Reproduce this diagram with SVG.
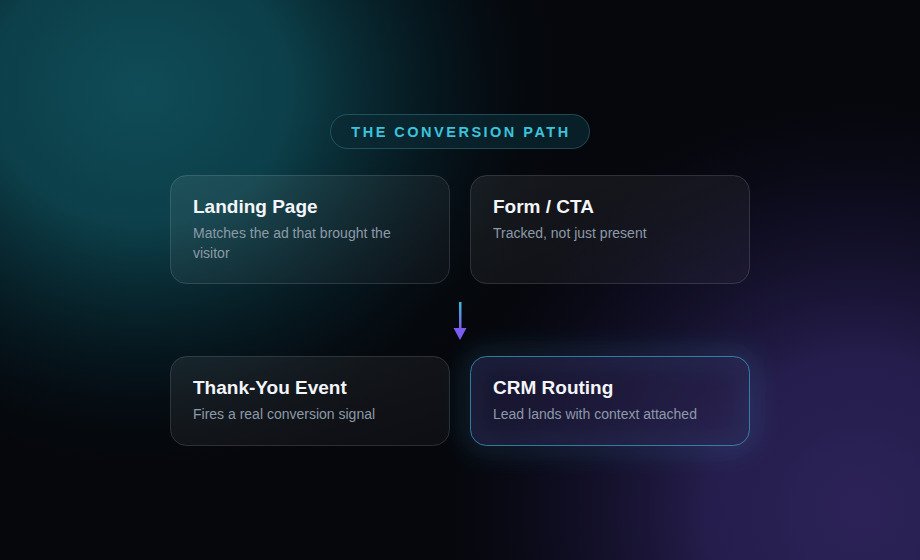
<svg xmlns="http://www.w3.org/2000/svg" width="920" height="560" viewBox="0 0 920 560">
<defs>
<radialGradient id="teal" cx="140" cy="90" r="460" gradientUnits="userSpaceOnUse" gradientTransform="translate(140 90) scale(0.95 0.85) translate(-140 -90)">
<stop offset="0" stop-color="#0f4c57"/>
<stop offset="0.35" stop-color="#0c3f49"/>
<stop offset="0.7" stop-color="#061a22" stop-opacity="0.7"/>
<stop offset="1" stop-color="#05070c" stop-opacity="0"/>
</radialGradient>
<radialGradient id="purple" cx="860" cy="510" r="440" gradientUnits="userSpaceOnUse">
<stop offset="0" stop-color="#2c2258"/>
<stop offset="0.35" stop-color="#251d4c"/>
<stop offset="0.72" stop-color="#120f28" stop-opacity="0.6"/>
<stop offset="1" stop-color="#05070c" stop-opacity="0"/>
</radialGradient>
<linearGradient id="cardFill" x1="0" y1="0" x2="1" y2="1">
<stop offset="0" stop-color="#ffffff" stop-opacity="0.07"/>
<stop offset="1" stop-color="#ffffff" stop-opacity="0.03"/>
</linearGradient>
<linearGradient id="arrowGrad" x1="0" y1="0" x2="0" y2="1">
<stop offset="0" stop-color="#38bdd8"/>
<stop offset="1" stop-color="#7c5cf0"/>
</linearGradient>
<filter id="glow" x="-30%" y="-50%" width="160%" height="200%">
<feGaussianBlur stdDeviation="12"/>
</filter>
<style>
.card{fill:url(#cardFill);stroke:#ffffff;stroke-opacity:0.14;stroke-width:1}
.title{font-family:"Liberation Sans",Arial,sans-serif;font-size:19px;font-weight:bold;fill:#f3f5f8}
.sub{font-family:"Liberation Sans",Arial,sans-serif;font-size:14px;fill:#8c9aa8}
.pillText{font-family:"Liberation Sans",Arial,sans-serif;font-size:14.5px;font-weight:bold;fill:#3cc3dc;letter-spacing:2.5px}
</style>
</defs>
<rect width="920" height="560" fill="#05070c"/>
<rect width="920" height="560" fill="url(#teal)"/>
<rect width="920" height="560" fill="url(#purple)"/>

<g id="header">
<rect x="330.5" y="114.5" width="259" height="34" rx="17" fill="#0c2a33" fill-opacity="0.7" stroke="#2f6f78" stroke-opacity="0.6"/>
<text class="pillText" x="461" y="136.5" text-anchor="middle">THE CONVERSION PATH</text>
</g>

<g id="node-landing">
<rect class="card" x="170.5" y="175.5" width="279" height="108" rx="16"/>
<text class="title" x="193" y="213">Landing Page</text>
<text class="sub" x="193" y="238">Matches the ad that brought the</text>
<text class="sub" x="193" y="258">visitor</text>
</g>

<g id="node-form">
<rect class="card" x="470.5" y="175.5" width="279" height="108" rx="16"/>
<text class="title" x="493" y="213">Form / CTA</text>
<text class="sub" x="493" y="238">Tracked, not just present</text>
</g>

<g id="node-thankyou">
<rect class="card" x="170.5" y="356.5" width="279" height="89" rx="16"/>
<text class="title" x="193" y="394">Thank-You Event</text>
<text class="sub" x="193" y="419">Fires a real conversion signal</text>
</g>

<g id="node-crm">
<rect x="470.5" y="356.5" width="279" height="89" rx="16" fill="none" stroke="#3aa0d0" stroke-opacity="0.35" stroke-width="8" filter="url(#glow)"/>
<rect x="470.5" y="356.5" width="279" height="89" rx="16" fill="#2a2350" fill-opacity="0.5" stroke="#3d9cc0" stroke-opacity="0.75"/>
<text class="title" x="493" y="394">CRM Routing</text>
<text class="sub" x="493" y="419" fill="#9aa0b8">Lead lands with context attached</text>
</g>

<g id="connectors">
<rect x="459" y="302" width="2.5" height="28" fill="url(#arrowGrad)"/>
<polygon points="453.5,328 466.5,328 460,340" fill="#7c5cf0"/>
</g>
</svg>
